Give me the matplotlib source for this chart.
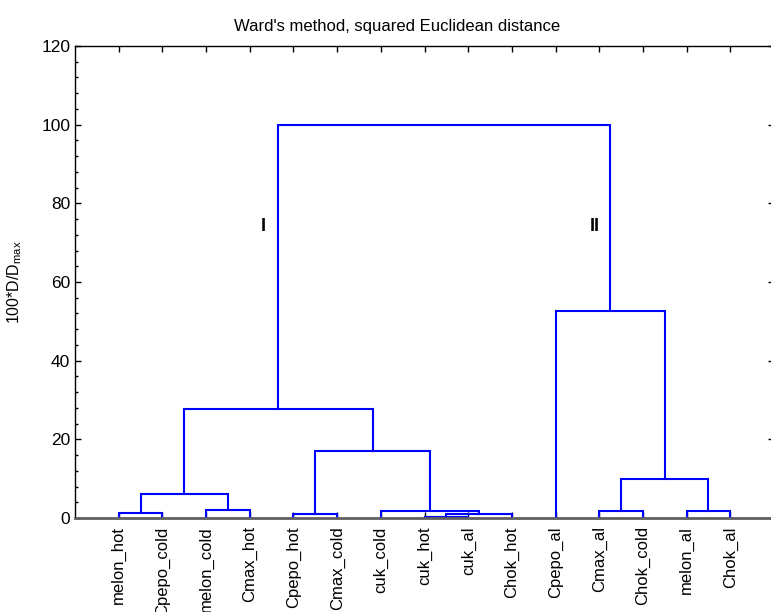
import matplotlib
matplotlib.use("Agg")
import matplotlib.pyplot as plt
from matplotlib.ticker import MultipleLocator

plt.rcParams['font.family'] = ['Liberation Sans', 'DejaVu Sans']

leaves = ["melon_hot", "Cpepo_cold", "melon_cold", "Cmax_hot", "Cpepo_hot",
          "Cmax_cold", "cuk_cold", "cuk_hot", "cuk_al", "Chok_hot", "Cpepo_al",
          "Cmax_al", "Chok_cold", "melon_al", "Chok_al"]

# merges: (left, right, height) ; names refer to leaves or earlier merges "m<i>"
merges = [
    ("melon_hot", "Cpepo_cold", 1.2),   # m0
    ("melon_cold", "Cmax_hot", 2.0),    # m1
    ("m0", "m1", 6.2),                  # m2
    ("Cpepo_hot", "Cmax_cold", 1.1),    # m3
    ("cuk_hot", "cuk_al", 0.3),         # m4
    ("m4", "Chok_hot", 0.95),           # m5
    ("cuk_cold", "m5", 1.7),            # m6
    ("m3", "m6", 17.0),                 # m7
    ("m2", "m7", 27.6),                 # m8
    ("Cmax_al", "Chok_cold", 1.9),      # m9
    ("melon_al", "Chok_al", 1.9),       # m10
    ("m9", "m10", 10.0),                # m11
    ("Cpepo_al", "m11", 52.6),          # m12
    ("m8", "m12", 100.0),               # m13
]

cluster_labels = ["I", "II"]
cluster_label_x = [4.3, 11.9]
cluster_label_y = [74.0, 74.0]

title = "Ward's method, squared Euclidean distance"

fig = plt.figure(figsize=(7.71, 6.12), dpi=100)
ax = fig.add_axes([75/771, 94/612, 699/771, 472/612])

pos = {name: (i + 1, 0.0) for i, name in enumerate(leaves)}
for i, (a, b, h) in enumerate(merges):
    xa, ya = pos[a]
    xb, yb = pos[b]
    ax.plot([xa, xa, xb, xb], [ya, h, h, yb], color='#0000ff', lw=1.5,
            solid_joinstyle='miter', zorder=2)
    pos[f"m{i}"] = ((xa + xb) / 2, h)

for lab, x, y in zip(cluster_labels, cluster_label_x, cluster_label_y):
    ax.text(x, y, lab, ha='center', va='center', fontsize=13, fontweight='bold')

ax.set_xlim(0, len(leaves) + 1)
ax.set_ylim(0, 120)
ax.set_xticks(range(1, len(leaves) + 1))
ax.set_xticklabels(leaves, rotation=90, fontsize=12)
ax.set_yticks(range(0, 121, 20))
ax.tick_params(axis='y', labelsize=12.5)
ax.yaxis.set_minor_locator(MultipleLocator(4))
ax.tick_params(axis='both', which='both', direction='in', top=True, right=True,
               length=4, width=1, color='black')
ax.tick_params(axis='y', which='minor', length=2.5)
ax.tick_params(axis='x', pad=6)
ax.set_ylabel("100*D/D$_{\\mathregular{max}}$", fontsize=11.5, labelpad=12)

for s in ['left', 'top', 'right']:
    ax.spines[s].set_color('black')
    ax.spines[s].set_linewidth(1)
ax.spines['bottom'].set_color('#606060')
ax.spines['bottom'].set_linewidth(2)

fig.text(397/771, 1 - 26/612, title, ha='center', va='center', fontsize=12)

fig.savefig("out.png", dpi=100)
